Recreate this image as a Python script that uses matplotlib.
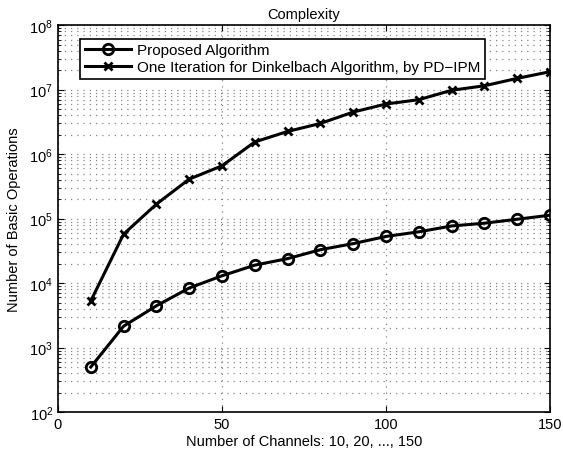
import matplotlib
matplotlib.use('Agg')
import matplotlib.pyplot as plt
from matplotlib.ticker import LogLocator, NullFormatter

plt.rcParams['font.family'] = ['Liberation Sans', 'DejaVu Sans']

# data
channels = [10, 20, 30, 40, 50, 60, 70, 80, 90, 100, 110, 120, 130, 140, 150]
proposed = [500, 2150, 4450, 8400, 13000, 19000, 24000, 33000, 41000,
            53000, 62500, 77000, 85000, 98000, 113000]
dinkelbach = [5300, 57500, 168000, 410000, 660000, 1550000, 2250000, 3000000,
              4500000, 6000000, 7000000, 9800000, 11500000, 15000000, 19000000]

fig = plt.figure(figsize=(5.63, 4.6), dpi=100)
ax = fig.add_axes([0.103, 0.102, 0.874, 0.841])

ax.semilogy(channels, proposed, '-o', color='k', lw=2.2, ms=7.5,
            mew=2, mfc='none', label='Proposed Algorithm')
ax.semilogy(channels, dinkelbach, '-x', color='k', lw=2.2, ms=6,
            mew=2, label='One Iteration for Dinkelbach Algorithm, by PD\u2212IPM')

ax.set_xlim(0, 150)
ax.set_ylim(1e2, 1e8)
ax.set_xticks([0, 50, 100, 150])
ax.yaxis.set_major_locator(LogLocator(base=10, numticks=10))
ax.yaxis.set_minor_locator(LogLocator(base=10, subs=range(2, 10), numticks=10))
ax.yaxis.set_minor_formatter(NullFormatter())

# matlab style dotted grid
ax.grid(True, which='major', ls=(0, (1, 4)), color='#888888', lw=0.9)
ax.grid(True, which='minor', axis='y', ls=(0, (1, 4)), color='#888888', lw=0.9)
ax.tick_params(which='both', direction='in', top=True, right=True, labelsize=10.5)
ax.tick_params(which='major', length=4)
ax.tick_params(which='minor', length=2)
for s in ax.spines.values():
    s.set_linewidth(1.2)

ax.set_xlabel('Number of Channels: 10, 20, ..., 150', fontsize=10.5, labelpad=2)
ax.set_ylabel('Number of Basic Operations', fontsize=10.5, labelpad=6)
ax.set_title('Complexity', fontsize=10.5, pad=5)

leg = ax.legend(loc='upper left', bbox_to_anchor=(0.03, 0.985), fontsize=11,
                fancybox=False, framealpha=1, edgecolor='k', borderpad=0.3,
                handlelength=3, labelspacing=0.2, handletextpad=0.4)
leg.get_frame().set_linewidth(1.2)

fig.savefig('out.png', dpi=100)
